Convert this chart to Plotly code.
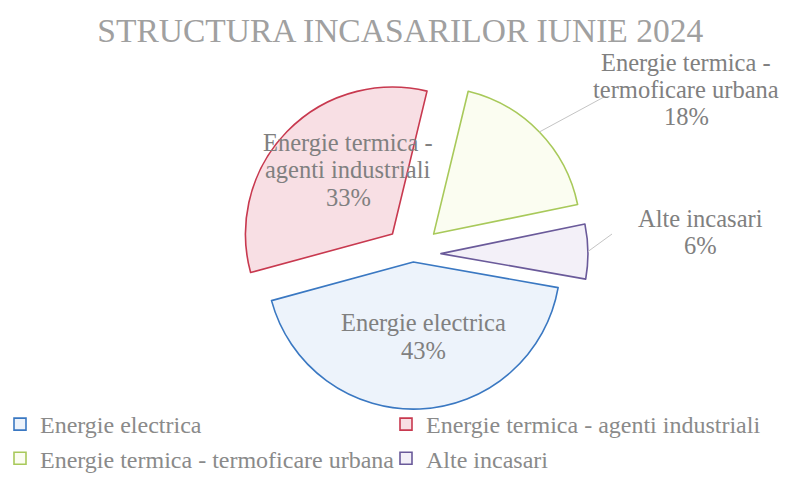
import numpy as np
import plotly.graph_objects as go

# ---- data ----
labels = [
    "Energie electrica",
    "Energie termica - agenti industriali",
    "Energie termica - termoficare urbana",
    "Alte incasari",
]
values = [43, 33, 18, 6]
title_text = "STRUCTURA INCASARILOR IUNIE 2024"

# ---- style ----
W, H = 791, 477
FONT = "Liberation Serif"
line_colors = ["#3a78c2", "#c8394f", "#a8c95a", "#6a5a9a"]
fill_colors = ["#edf3fb", "#f8dfe4", "#fbfdf1", "#f3f0f8"]
pulls = [0.055, 0.195, 0.195, 0.19]
rotation = 100  # degrees clockwise from 12 o'clock where the first slice starts

# pie geometry (pixels) -> domain
CX, CY, R = 413, 254, 147
maxpull = max(pulls)
half = R * (1 + maxpull)
dom_x = [(CX - half) / W, (CX + half) / W]
dom_y = [(H - CY - half) / H, (H - CY + half) / H]

total = sum(values)
pcts = [round(v / total * 100) for v in values]

fig = go.Figure()
fig.add_trace(go.Pie(
    labels=labels,
    values=values,
    sort=False,
    direction="clockwise",
    rotation=rotation,
    pull=pulls,
    textinfo="none",
    hoverinfo="label+percent",
    marker=dict(colors=fill_colors, line=dict(color=line_colors, width=1.6)),
    domain=dict(x=dom_x, y=dom_y),
))

# slice geometry derived from the values
ang = []
cum = rotation
for v in values:
    a0 = cum
    a1 = cum + v / total * 360
    ang.append((a0 + a1) / 2)
    cum = a1


def arc_point(i):
    m = np.radians(ang[i])
    pcx = CX + pulls[i] * R * np.sin(m)
    pcy = CY - pulls[i] * R * np.cos(m)
    return pcx + R * np.sin(m), pcy - R * np.cos(m)


def label_lines(i):
    return labels[i].replace(" - ", " -\n").split("\n") + [f"{pcts[i]}%"]


# label centres (pixels) and leader-line ends (pixels), None = inside label
label_pos = [(423, 336.5), (348, 169.5), (686, 89.5), (700, 232)]
leader_end = [None, None, (604, 97), (612, 234)]
LINE_GAP = 27.5

annotations = []
shapes = []
for i in range(len(values)):
    lx, ly = label_pos[i]
    lines = label_lines(i)
    n = len(lines)
    for k, txt in enumerate(lines):
        yy = ly + (k - (n - 1) / 2) * LINE_GAP
        annotations.append(dict(
            text=txt, x=lx / W, y=1 - yy / H, xref="paper", yref="paper",
            xanchor="center", yanchor="middle", showarrow=False, align="center",
            font=dict(family=FONT, size=24.5, color="#808080"),
        ))
    if leader_end[i] is not None:
        tx, ty = arc_point(i)
        ex, ey = leader_end[i]
        shapes.append(dict(
            type="line", xref="paper", yref="paper",
            x0=tx / W, y0=1 - ty / H, x1=ex / W, y1=1 - ey / H,
            line=dict(color="#c4c4c4", width=1),
        ))

fig.update_layout(
    width=W, height=H,
    margin=dict(l=0, r=0, t=0, b=0, autoexpand=False),
    paper_bgcolor="white",
    plot_bgcolor="white",
    title=dict(
        text=title_text, x=0.506, xref="paper", xanchor="center",
        y=1 - 30 / H, yref="container", yanchor="middle",
        font=dict(family=FONT, size=33.5, color="#a0a0a0"),
    ),
    showlegend=True,
    legend=dict(
        orientation="h", x=0.0, xanchor="left", y=1 - 402 / H, yanchor="top",
        font=dict(family=FONT, size=24, color="#8a8a8a"),
        entrywidth=341, entrywidthmode="pixels",
        traceorder="normal", bgcolor="rgba(0,0,0,0)",
    ),
    annotations=annotations,
    shapes=shapes,
)

fig.write_html(
    "out.html",
    config={"displayModeBar": False},
    post_script="document.body.style.margin='0';document.body.style.overflow='hidden';",
)
